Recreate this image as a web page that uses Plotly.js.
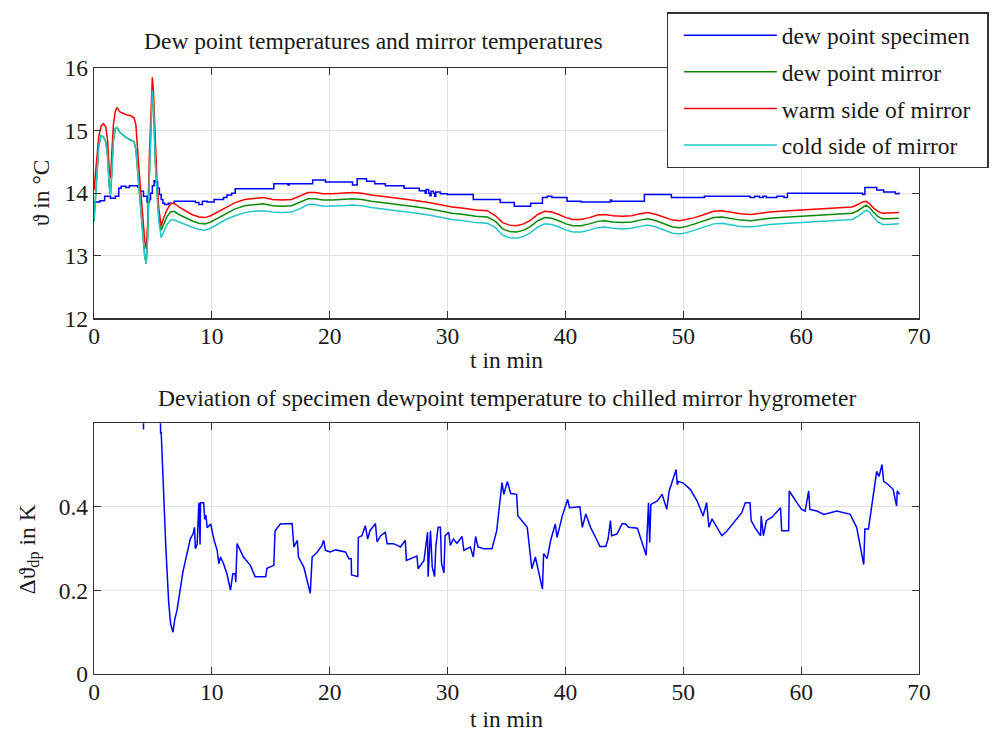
<!DOCTYPE html>
<html>
<head>
<meta charset="utf-8">
<script src="https://cdn.plot.ly/plotly-3.0.1.min.js"></script>
<style>html,body{margin:0;padding:0;background:#fff;}#chart{width:1004px;height:736px;}</style>
</head>
<body>
<div id="chart"></div>
<script>
// ---- Data ----
const seriesNames = ['dew point specimen', 'dew point mirror', 'warm side of mirror', 'cold side of mirror'];

// dew point of the specimen (step signal), time in min / temperature in °C
const tSpecimen = [0, 0.5, 0.9, 1.4, 1.8, 2.1, 2.3, 2.7, 3.0, 3.7,
  3.9, 4.2, 4.5, 4.7, 4.8, 4.95, 5.1, 5.25, 5.4, 5.55,
  5.7, 5.85, 6.0, 6.3, 6.8, 8.6, 8.9, 9.2, 9.6, 10.19,
  10.99, 11.28, 11.68, 11.98, 15.26, 16.46, 16.56, 18.55, 19.64, 21.93,
  22.33, 23.12, 23.82, 24.72, 26.31, 27.6, 28.1, 28.2, 28.4, 28.5,
  28.6, 28.8, 28.9, 29.0, 29.39, 29.99, 32.18, 34.47, 35.66, 37.05,
  38.05, 38.45, 38.85, 40.14, 41.33, 43.82, 43.92, 46.7, 48.99, 51.78,
  55.66, 56.06, 56.46, 56.76, 57.05, 57.95, 58.55, 58.84, 65.21, 65.41,
  66.41, 67.0, 68.0, 68.3];
const dewSpecimen = [13.86, 13.88, 13.95, 13.92, 13.95, 14.08, 14.11, 14.09, 14.12, 14.10,
  14.03, 13.95, 13.86, 13.90, 14.0, 14.12, 14.2, 14.18, 14.08, 13.98,
  13.9, 13.84, 13.82, 13.84, 13.87, 13.85, 13.82, 13.87, 13.86, 13.9,
  13.93, 13.97, 14.0, 14.07, 14.15, 14.13, 14.15, 14.21, 14.18, 14.13,
  14.23, 14.19, 14.15, 14.12, 14.08, 14.04, 14.0, 14.06, 14.0, 13.96,
  14.03, 14.0, 13.95, 14.02, 13.99, 13.98, 13.9, 13.85, 13.79, 13.84,
  13.93, 13.95, 13.93, 13.87, 13.86, 13.89, 13.87, 13.98, 13.93, 13.95,
  13.93, 13.95, 13.93, 13.95, 13.93, 13.95, 13.93, 14.0, 13.98, 14.09,
  14.05, 14.02, 13.99, 14.01];

// mirror signals, common time base
const tMirror = [0, 0.2, 0.4, 0.6, 0.8, 1.0, 1.15, 1.3, 1.4, 1.5,
  1.65, 1.8, 1.95, 2.2, 2.5, 2.8, 3.1, 3.4, 3.55, 3.7,
  3.85, 4.0, 4.15, 4.3, 4.43, 4.55, 4.7, 4.85, 4.95, 5.05,
  5.2, 5.35, 5.5, 5.7, 5.9, 6.2, 6.5, 6.8, 7.2, 7.7,
  8.3, 8.9, 9.4, 9.9, 10.49, 11.18, 11.98, 12.78, 13.57, 14.37,
  15.16, 15.96, 16.76, 17.45, 18.15, 18.75, 19.44, 20.24, 21.13, 21.93,
  22.73, 23.52, 24.42, 25.41, 26.41, 27.4, 28.4, 29.39, 30.39, 31.38,
  32.38, 33.37, 34.07, 34.67, 35.26, 35.86, 36.46, 37.05, 37.65, 38.25,
  38.85, 39.44, 40.04, 40.64, 41.33, 42.03, 42.73, 43.32, 44.02, 44.82,
  45.61, 46.31, 47.0, 47.7, 48.4, 49.09, 49.69, 50.29, 50.98, 51.78,
  52.58, 53.27, 54.07, 54.86, 55.76, 56.56, 57.35, 58.25, 59.14, 60.04,
  60.93, 61.83, 62.73, 63.62, 64.32, 64.81, 65.21, 65.51, 65.81, 66.11,
  66.51, 66.9, 67.4, 67.9, 68.3];
const dewMirror = [13.55, 14.2, 14.75, 14.92, 14.9, 14.82, 14.6, 14.1, 13.98, 14.3,
  14.85, 15.03, 15.05, 14.97, 14.92, 14.88, 14.85, 14.82, 14.7, 14.35,
  14.1, 13.8, 13.4, 13.0, 12.87, 13.3, 14.3, 15.3, 15.64, 15.4,
  14.5, 14.0, 13.62, 13.41, 13.5, 13.63, 13.7, 13.71, 13.66, 13.61,
  13.56, 13.52, 13.51, 13.54, 13.6, 13.68, 13.75, 13.8, 13.82, 13.83,
  13.8, 13.79, 13.8, 13.85, 13.91, 13.91, 13.89, 13.89, 13.9, 13.91,
  13.9, 13.87, 13.85, 13.83, 13.8, 13.78, 13.75, 13.71, 13.68, 13.66,
  13.63, 13.62, 13.55, 13.43, 13.39, 13.38, 13.41, 13.47, 13.56, 13.61,
  13.6, 13.56, 13.51, 13.48, 13.48, 13.51, 13.55, 13.56, 13.54, 13.53,
  13.54, 13.57, 13.59, 13.56, 13.51, 13.46, 13.45, 13.47, 13.51, 13.56,
  13.61, 13.62, 13.6, 13.57, 13.56, 13.58, 13.6, 13.61, 13.62, 13.63,
  13.64, 13.65, 13.66, 13.67, 13.68, 13.72, 13.78, 13.81, 13.77, 13.7,
  13.63, 13.59, 13.59, 13.6, 13.6];
const warmSide = [14.05, 14.5, 14.9, 15.07, 15.11, 15.06, 14.85, 14.35, 14.24, 14.6,
  15.1, 15.3, 15.37, 15.3, 15.27, 15.25, 15.24, 15.2, 15.1, 14.65,
  14.3, 13.95, 13.6, 13.25, 13.11, 13.5, 14.6, 15.6, 15.85, 15.6,
  14.7, 14.15, 13.75, 13.48, 13.6, 13.74, 13.83, 13.84, 13.78, 13.72,
  13.66, 13.62, 13.61, 13.64, 13.7, 13.78, 13.85, 13.9, 13.92, 13.93,
  13.9, 13.89, 13.9, 13.95, 14.01, 14.01, 13.99, 13.99, 14.0, 14.01,
  14.0, 13.97, 13.95, 13.93, 13.9, 13.88, 13.85, 13.81, 13.78, 13.76,
  13.73, 13.72, 13.64, 13.53, 13.49, 13.48, 13.51, 13.57, 13.66, 13.71,
  13.7, 13.66, 13.61, 13.58, 13.58, 13.61, 13.65, 13.66, 13.64, 13.63,
  13.64, 13.67, 13.69, 13.66, 13.61, 13.57, 13.56, 13.58, 13.61, 13.66,
  13.71, 13.72, 13.7, 13.67, 13.66, 13.68, 13.7, 13.71, 13.72, 13.73,
  13.74, 13.75, 13.76, 13.77, 13.78, 13.82, 13.86, 13.87, 13.83, 13.77,
  13.71, 13.68, 13.68, 13.69, 13.69];
const coldSide = [13.55, 14.2, 14.75, 14.92, 14.9, 14.82, 14.6, 14.1, 13.98, 14.3,
  14.85, 15.03, 15.05, 14.97, 14.92, 14.88, 14.85, 14.82, 14.7, 14.35,
  14.1, 13.8, 13.4, 13.0, 12.87, 13.3, 14.3, 15.3, 15.64, 15.4,
  14.5, 14.0, 13.55, 13.29, 13.38, 13.5, 13.57, 13.57, 13.54, 13.5,
  13.46, 13.42, 13.41, 13.44, 13.5, 13.58, 13.64, 13.69, 13.71, 13.72,
  13.7, 13.69, 13.7, 13.75, 13.82, 13.82, 13.79, 13.79, 13.8, 13.81,
  13.8, 13.77, 13.75, 13.73, 13.7, 13.68, 13.65, 13.61, 13.58, 13.56,
  13.53, 13.52, 13.45, 13.33, 13.29, 13.28, 13.31, 13.37, 13.46, 13.51,
  13.5, 13.46, 13.41, 13.38, 13.38, 13.41, 13.45, 13.46, 13.44, 13.43,
  13.44, 13.47, 13.49, 13.46, 13.41, 13.36, 13.35, 13.37, 13.41, 13.46,
  13.51, 13.52, 13.5, 13.47, 13.46, 13.48, 13.5, 13.51, 13.52, 13.53,
  13.54, 13.55, 13.56, 13.57, 13.58, 13.63, 13.69, 13.73, 13.7, 13.62,
  13.54, 13.5, 13.5, 13.51, 13.51];

// deviation specimen - chilled mirror hygrometer, K
const tDev = [4.18, 4.2, 4.22, 5.6, 5.63, 5.65, 5.7, 5.9, 6.1, 6.34,
  6.5, 6.7, 6.85, 7.05, 7.33, 7.55, 7.76, 8.0, 8.18, 8.4,
  8.53, 8.6, 8.75, 8.9, 9.0, 9.04, 9.3, 9.4, 9.5, 9.6,
  9.9, 10.19, 10.45, 10.59, 10.74, 10.99, 11.28, 11.58, 11.78, 11.98,
  12.03, 12.14, 12.68, 13.27, 13.67, 14.57, 14.67, 15.26, 15.36, 15.81,
  16.81, 16.96, 17.25, 17.35, 17.8, 18.35, 18.51, 18.95, 19.34, 19.49,
  19.64, 20.04, 20.49, 21.33, 21.63, 21.83, 21.85, 22.38, 22.43, 22.73,
  23.02, 23.22, 23.42, 23.88, 24.02, 24.32, 24.72, 24.87, 25.41, 26.01,
  26.41, 26.51, 27.4, 27.5, 27.7, 28.0, 28.3, 28.35, 28.55, 28.7,
  28.9, 29.0, 29.19, 29.39, 29.49, 29.69, 29.79, 30.09, 30.24, 30.49,
  30.79, 31.23, 31.38, 31.93, 32.18, 32.38, 32.58, 33.07, 33.77, 34.17,
  34.62, 34.77, 35.07, 35.36, 35.86, 35.96, 36.76, 37.15, 37.45, 38.05,
  38.15, 38.45, 38.75, 39.14, 39.29, 39.74, 40.19, 40.34, 41.23, 41.43,
  41.73, 42.13, 42.68, 42.93, 43.42, 43.62, 43.82, 43.92, 44.37, 44.82,
  45.11, 45.36, 46.11, 46.85, 47.05, 47.15, 47.25, 47.8, 48.2, 48.6,
  48.8, 49.19, 49.39, 49.49, 49.59, 49.99, 50.59, 51.18, 51.68, 51.98,
  52.18, 52.43, 52.88, 53.27, 53.67, 54.57, 54.96, 55.26, 55.66, 55.76,
  56.11, 56.56, 56.61, 56.8, 57.05, 57.55, 58.25, 58.35, 58.94, 58.99,
  59.24, 59.64, 60.04, 60.34, 60.64, 60.74, 61.33, 61.93, 63.02, 64.17,
  64.42, 64.71, 65.31, 65.41, 65.71, 66.31, 66.41, 66.61, 66.86, 67.0,
  67.4, 67.8, 68.1, 68.15, 68.35];
const devDp = [0.65, 0.585, 0.7, 0.7, 0.6, 0.575, 0.58, 0.43, 0.3, 0.17,
  0.12, 0.10, 0.13, 0.154, 0.209, 0.245, 0.272, 0.30, 0.324, 0.335,
  0.351, 0.30, 0.31, 0.41, 0.31, 0.41, 0.41, 0.37, 0.38, 0.35,
  0.359, 0.32, 0.296, 0.264, 0.28, 0.264, 0.24, 0.201, 0.24, 0.24,
  0.22, 0.312, 0.28, 0.26, 0.233, 0.233, 0.253, 0.26, 0.343, 0.359,
  0.36, 0.304, 0.32, 0.28, 0.256, 0.193, 0.28, 0.292, 0.308, 0.32,
  0.296, 0.292, 0.297, 0.292, 0.276, 0.276, 0.237, 0.233, 0.327, 0.331,
  0.355, 0.323, 0.343, 0.36, 0.316, 0.331, 0.339, 0.312, 0.312, 0.304,
  0.32, 0.272, 0.282, 0.252, 0.26, 0.272, 0.339, 0.233, 0.343, 0.256,
  0.233, 0.304, 0.351, 0.351, 0.264, 0.242, 0.331, 0.339, 0.308, 0.323,
  0.313, 0.329, 0.296, 0.304, 0.28, 0.329, 0.304, 0.3, 0.3, 0.343,
  0.458, 0.43, 0.461, 0.432, 0.43, 0.379, 0.351, 0.252, 0.28, 0.203,
  0.288, 0.276, 0.32, 0.359, 0.327, 0.379, 0.418, 0.398, 0.40, 0.351,
  0.383, 0.351, 0.32, 0.305, 0.305, 0.323, 0.367, 0.331, 0.335, 0.36,
  0.359, 0.351, 0.349, 0.284, 0.41, 0.315, 0.406, 0.414, 0.43, 0.394,
  0.438, 0.473, 0.489, 0.453, 0.461, 0.457, 0.442, 0.414, 0.378, 0.41,
  0.351, 0.371, 0.351, 0.331, 0.341, 0.371, 0.386, 0.41, 0.41, 0.367,
  0.349, 0.331, 0.378, 0.331, 0.367, 0.376, 0.398, 0.343, 0.343, 0.438,
  0.426, 0.41, 0.394, 0.39, 0.438, 0.394, 0.39, 0.382, 0.39, 0.382,
  0.367, 0.351, 0.262, 0.347, 0.347, 0.473, 0.485, 0.473, 0.501, 0.461,
  0.453, 0.442, 0.402, 0.438, 0.43];

const xTicks = [0, 10, 20, 30, 40, 50, 60, 70];
const yTicksTop = [12, 13, 14, 15, 16];
const yTicksBottom = [0, 0.2, 0.4];
const yTickTextBottom = ['0', '0.2', '0.4'];

// ---- Styling ----
const colors = ['#0000ff', '#0a8a0a', '#ff0000', '#22c8c8'];
const FONT = 'Liberation Serif, Times New Roman, serif';
const FS = 23.5;
const LW = 1.5;
const PAD = '\u00a0\u00a0';

const traces = [
  {x: tSpecimen, y: dewSpecimen, name: seriesNames[0] + PAD, legendgroup: 'a', mode: 'lines', line: {color: colors[0], width: LW, shape: 'hv'}, xaxis: 'x', yaxis: 'y'},
  {x: tMirror, y: dewMirror, name: seriesNames[1] + PAD, legendgroup: 'b', mode: 'lines', line: {color: colors[1], width: LW}, xaxis: 'x', yaxis: 'y'},
  {x: tMirror, y: warmSide, name: seriesNames[2] + PAD, legendgroup: 'c', mode: 'lines', line: {color: colors[2], width: LW}, xaxis: 'x', yaxis: 'y'},
  {x: tMirror, y: coldSide, name: seriesNames[3] + PAD, legendgroup: 'd', mode: 'lines', line: {color: colors[3], width: LW}, xaxis: 'x', yaxis: 'y'},
  {x: tDev, y: devDp, name: 'deviation', showlegend: false, mode: 'lines', line: {color: colors[0], width: LW}, xaxis: 'x2', yaxis: 'y2'}
];

const axisCommon = {
  ticks: 'inside', ticklen: 7, tickwidth: 1.2, tickcolor: '#333',
  mirror: 'ticks', showline: true, linecolor: '#333', linewidth: 1.3,
  showgrid: true, gridcolor: '#e2e2e2', gridwidth: 1, zeroline: false,
  tickfont: {family: FONT, size: FS, color: '#1a1a1a'}
};

const layout = {
  width: 1004, height: 736,
  margin: {l: 93.5, r: 85.2, t: 62, b: 61.7, pad: 0},
  paper_bgcolor: '#ffffff', plot_bgcolor: '#ffffff',
  font: {family: FONT, size: FS, color: '#1a1a1a'},
  showlegend: true,
  legend: {
    x: 0.694, y: 1.092, xanchor: 'left', yanchor: 'top',
    bgcolor: '#ffffff', bordercolor: '#333', borderwidth: 1.3,
    font: {family: FONT, size: FS, color: '#1a1a1a'},
    itemwidth: 93, indentation: 11, traceorder: 'grouped', tracegroupgap: 3
  },
  xaxis: Object.assign({}, axisCommon, {domain: [0, 1], anchor: 'y', range: [0, 70], tickvals: xTicks, ticklabelstandoff: -4}),
  yaxis: Object.assign({}, axisCommon, {domain: [0.5868, 1], anchor: 'x', range: [12, 16], tickvals: yTicksTop}),
  xaxis2: Object.assign({}, axisCommon, {domain: [0, 1], anchor: 'y2', range: [0, 70], tickvals: xTicks, ticklabelstandoff: -4}),
  yaxis2: Object.assign({}, axisCommon, {domain: [0, 0.4137], anchor: 'x2', range: [0, 0.6], tickvals: yTicksBottom, ticktext: yTickTextBottom}),
  annotations: [
    {text: 'Dew point temperatures and mirror temperatures', xref: 'paper', yref: 'paper', x: 0.3387, y: 1.0441, xanchor: 'center', yanchor: 'middle', showarrow: false, font: {family: FONT, size: FS}},
    {text: 'Deviation of specimen dewpoint temperature to chilled mirror hygrometer', xref: 'paper', yref: 'paper', x: 0.501, y: 0.4561, xanchor: 'center', yanchor: 'middle', showarrow: false, font: {family: FONT, size: FS}},
    {text: 't in min', xref: 'paper', yref: 'paper', x: 0.5, y: 0.5182, xanchor: 'center', yanchor: 'middle', showarrow: false, font: {family: FONT, size: FS}},
    {text: 't in min', xref: 'paper', yref: 'paper', x: 0.5, y: -0.074, xanchor: 'center', yanchor: 'middle', showarrow: false, font: {family: FONT, size: FS}},
    {text: 'ϑ in °C', xref: 'paper', yref: 'paper', x: -0.0648, y: 0.7942, xanchor: 'center', yanchor: 'middle', textangle: -90, showarrow: false, font: {family: FONT, size: FS}},
    {text: 'Δϑ<sub>dp</sub> in K', xref: 'paper', yref: 'paper', x: -0.0794, y: 0.2063, xanchor: 'center', yanchor: 'middle', textangle: -90, showarrow: false, font: {family: FONT, size: FS}}
  ]
};

Plotly.newPlot('chart', traces, layout, {displayModeBar: false, staticPlot: true});
</script>
</body>
</html>
